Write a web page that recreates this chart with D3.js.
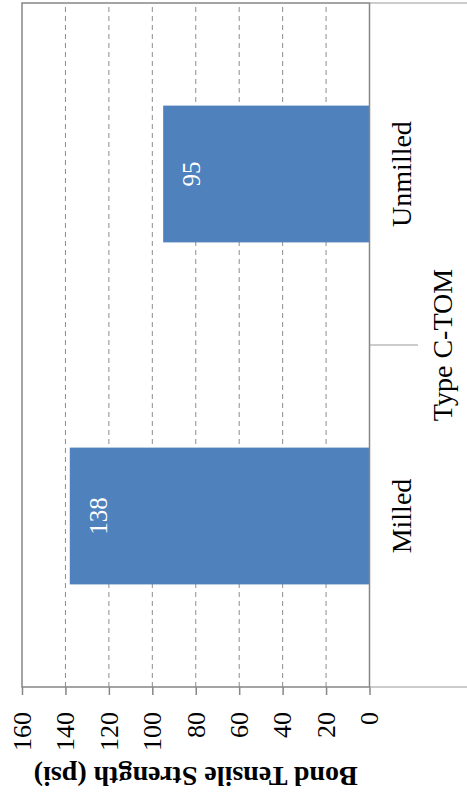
<!DOCTYPE html>
<html>
<head>
<meta charset="utf-8">
<script src="https://cdn.jsdelivr.net/npm/d3@7"></script>
<style>
  body { margin: 0; background: #fff; }
  text { font-family: "Liberation Serif", "Times New Roman", serif; }
</style>
</head>
<body>
<div id="wrapper"></div>
<script>
// data
const categories = ["Milled", "Unmilled"];
const values = [138, 95];
const groupLabel = "Type C-TOM";
const yTicks = [0, 20, 40, 60, 80, 100, 120, 140, 160];
const yTitle = "Bond Tensile Strength (psi)";

function drawChart() {
    const width = 467
    const height = 798

    // chart is drawn upright (798 wide x 467 high) then turned 90deg ccw
    let dims = {
        width: height,
        height: width,
        margin: { top: 22, right: 3, bottom: 97.5, left: 111 },
    }
    dims.plotRight = dims.width - dims.margin.right
    dims.plotBottom = dims.height - dims.margin.bottom

    const svg = d3.select("#wrapper")
        .html("")
        .append("svg")
        .attr("width", width)
        .attr("height", height);

    const g = svg.append("g")
        .attr("transform", `translate(0,${height}) rotate(-90)`);

    const xScale = d3.scaleBand()
        .domain(categories)
        .range([dims.margin.left, dims.plotRight])
        .paddingInner(0.6)
        .paddingOuter(0.3);

    const yScale = d3.scaleLinear()
        .domain([0, 160])
        .range([dims.plotBottom, dims.margin.top]);

    // gridlines
    g.append("g")
        .selectAll("line")
        .data(yTicks.filter(d => d > 0 && d < 160))
        .join("line")
        .attr("x1", dims.margin.left)
        .attr("x2", dims.plotRight)
        .attr("y1", d => yScale(d))
        .attr("y2", d => yScale(d))
        .attr("stroke", "#8c8c8c")
        .attr("stroke-width", 1)
        .attr("stroke-dasharray", "5,4");

    // bars
    g.append("g")
        .selectAll("rect")
        .data(values)
        .join("rect")
        .attr("x", (d, i) => xScale(categories[i]))
        .attr("width", xScale.bandwidth())
        .attr("y", d => yScale(d))
        .attr("height", d => yScale(0) - yScale(d))
        .attr("fill", "#4f81bd");

    // value labels
    g.append("g")
        .selectAll("text")
        .data(values)
        .join("text")
        .attr("x", (d, i) => xScale(categories[i]) + xScale.bandwidth() / 2)
        .attr("y", d => yScale(d) + 37)
        .attr("text-anchor", "middle")
        .attr("fill", "#ffffff")
        .attr("font-size", "25px")
        .text(d => d);

    // plot border
    g.append("rect")
        .attr("x", dims.margin.left)
        .attr("y", dims.margin.top)
        .attr("width", dims.plotRight - dims.margin.left)
        .attr("height", dims.plotBottom - dims.margin.top)
        .attr("fill", "none")
        .attr("stroke", "#868686")
        .attr("stroke-width", 1.5);

    // value axis
    const yAxisGen = d3.axisLeft(yScale)
        .tickValues(yTicks)
        .tickSizeInner(8)
        .tickSizeOuter(0)
        .tickPadding(17);
    const yAxis = g.append("g")
        .attr("transform", `translate(${dims.margin.left},0)`)
        .call(yAxisGen);
    yAxis.select(".domain").remove();
    yAxis.selectAll(".tick line").attr("stroke", "#868686").attr("stroke-width", 1.5);
    yAxis.selectAll(".tick text")
        .attr("fill", "#000")
        .attr("font-size", "26px")
        .attr("font-family", "Liberation Serif");

    // y title
    g.append("text")
        .attr("transform", `translate(31,${(dims.margin.top + dims.plotBottom) / 2}) rotate(-90)`)
        .attr("text-anchor", "middle")
        .attr("font-size", "28px")
        .attr("font-weight", "bold")
        .text(yTitle);

    // category axis: boundary ticks
    const step = xScale.step();
    const first = xScale(categories[0]) - step * xScale.paddingInner() / 2;
    const bounds = d3.range(categories.length + 1).map(i => first + i * step);
    g.append("g")
        .selectAll("line")
        .data(bounds)
        .join("line")
        .attr("x1", d => d)
        .attr("x2", d => d)
        .attr("y1", dims.plotBottom)
        .attr("y2", (d, i) => (i === 0 || i === bounds.length - 1) ? dims.height : dims.plotBottom + 48.5)
        .attr("stroke", "#9a9a9a")
        .attr("stroke-width", 1.2);

    // category labels
    g.append("g")
        .selectAll("text")
        .data(categories)
        .join("text")
        .attr("x", d => xScale(d) + xScale.bandwidth() / 2)
        .attr("y", dims.plotBottom + 41)
        .attr("text-anchor", "middle")
        .attr("font-size", "28px")
        .text(d => d);

    g.append("text")
        .attr("x", (dims.margin.left + dims.plotRight) / 2)
        .attr("y", dims.plotBottom + 82)
        .attr("text-anchor", "middle")
        .attr("font-size", "28px")
        .text(groupLabel);
}

drawChart();
</script>
</body>
</html>
